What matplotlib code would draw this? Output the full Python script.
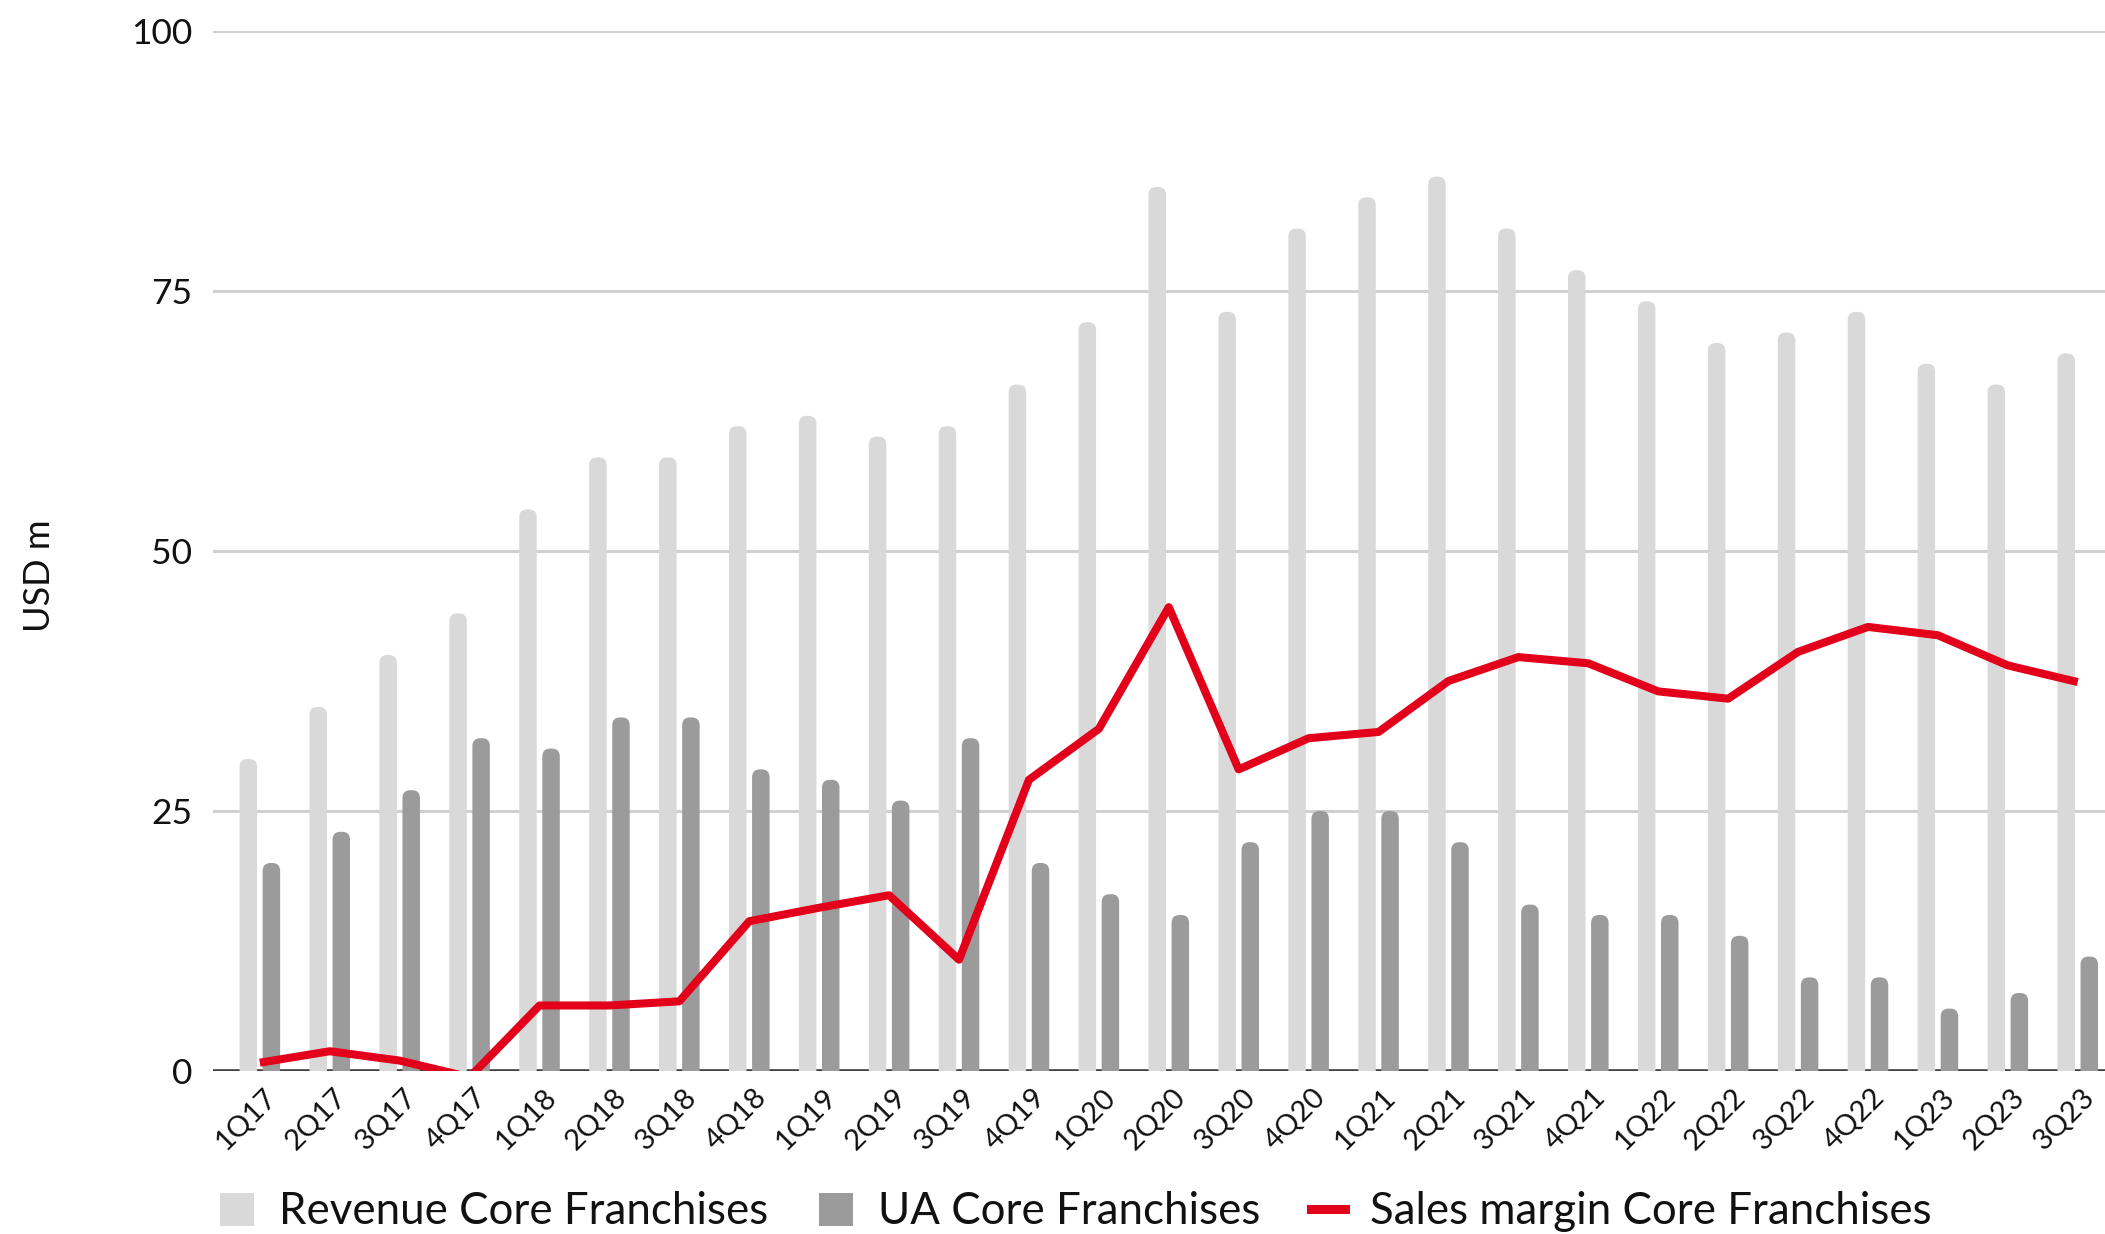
import matplotlib
matplotlib.use("Agg")
import matplotlib.pyplot as plt
import matplotlib.transforms as mtransforms
from matplotlib.patches import FancyBboxPatch, Patch
from matplotlib.lines import Line2D
import numpy as np

quarters = ["1Q17", "2Q17", "3Q17", "4Q17", "1Q18", "2Q18", "3Q18", "4Q18",
            "1Q19", "2Q19", "3Q19", "4Q19", "1Q20", "2Q20", "3Q20", "4Q20",
            "1Q21", "2Q21", "3Q21", "4Q21", "1Q22", "2Q22", "3Q22", "4Q22",
            "1Q23", "2Q23", "3Q23"]
revenue = [30, 35, 40, 44, 54, 59, 59, 62, 63, 61, 62, 66, 72, 85, 73, 81,
           84, 86, 81, 77, 74, 70, 71, 73, 68, 66, 69]
ua = [20, 23, 27, 32, 31, 34, 34, 29, 28, 26, 32, 20, 17, 15, 22, 25,
      25, 22, 16, 15, 15, 13, 9, 9, 6, 7.5, 11]
margin = [0.8, 1.9, 1.0, -0.6, 6.3, 6.3, 6.7, 14.4, 15.7, 16.9, 10.7, 28.0,
          32.9, 44.6, 29.0, 32.0, 32.6, 37.5, 39.8, 39.2, 36.5, 35.8, 40.3,
          42.7, 41.9, 39.0, 37.4]
y_ticks = [0, 25, 50, 75, 100]
legend_labels = ["Revenue Core Franchises", "UA Core Franchises",
                 "Sales margin Core Franchises"]

C_REV = "#d9d9d9"
C_UA = "#9b9b9b"
C_RED = "#e2001a"
FONT = "Lato"

W, H, DPI = 2105, 1234, 100
fig = plt.figure(figsize=(W / DPI, H / DPI), dpi=DPI)
ax_left, ax_right = 213 / W, 1.0
ax_bottom, ax_top = 1 - 1071 / H, 1 - 31 / H
ax = fig.add_axes([ax_left, ax_bottom, ax_right - ax_left, ax_top - ax_bottom])

x = np.arange(len(quarters))
xmin, xmax = -0.67, 26.39
ymin, ymax = 0, 100
ax.set_xlim(xmin, xmax)
ax.set_ylim(ymin, ymax)

# pixel scale for rounded bar tops
ax_w_px = (ax_right - ax_left) * W
ax_h_px = (ax_top - ax_bottom) * H
x_per_px = (xmax - xmin) / ax_w_px
y_per_px = (ymax - ymin) / ax_h_px
aspect = y_per_px / x_per_px

bw = 0.25
off = 0.165


def rounded_bars(xs, vals, color):
    for xi, v in zip(xs, vals):
        p = FancyBboxPatch((xi - bw / 2, -3), bw, v + 3,
                           boxstyle=f"round,pad=0,rounding_size={bw * 0.45}",
                           mutation_aspect=aspect, facecolor=color,
                           edgecolor="none", zorder=2)
        ax.add_patch(p)


rounded_bars(x - off, revenue, C_REV)
rounded_bars(x + off, ua, C_UA)

ax.plot(x, margin, color=C_RED, lw=5.8, zorder=4, solid_joinstyle="round",
        solid_capstyle="butt")

# grid and zero line
for t in y_ticks[1:]:
    ax.axhline(t, color="#d0d0d0", lw=2.2, zorder=0.5)
ax.axhline(0, color="#404040", lw=2.6, zorder=0.6)

for s in ax.spines.values():
    s.set_visible(False)

ax.set_yticks(y_ticks)
ax.set_yticklabels([str(t) for t in y_ticks], fontsize=25.5, family=FONT,
                   color="#111111")
ax.tick_params(axis="y", length=0, pad=15)

ax.set_xticks(x)
ax.set_xticklabels(quarters, rotation=45, ha="right", va="center",
                   rotation_mode="anchor", fontsize=21, family=FONT,
                   color="#111111")
ax.tick_params(axis="x", length=0, pad=16)
shift = mtransforms.ScaledTranslation(13 / DPI, 0, fig.dpi_scale_trans)
for lab in ax.get_xticklabels():
    lab.set_transform(lab.get_transform() + shift)

fig.text(40 / W, 1 - 576 / H, "USD m", rotation=90, ha="center",
         va="center", fontsize=26, family=FONT, color="#111111")

handles = [Patch(facecolor=C_REV, edgecolor="none"),
           Patch(facecolor=C_UA, edgecolor="none"),
           Line2D([0], [0], color=C_RED, lw=6.5)]
fig.legend(handles, legend_labels, loc="center left",
           bbox_to_anchor=(220 / W, 1 - 1212 / H), ncol=3, frameon=False,
           prop={"family": FONT, "size": 31.6}, handlelength=0.77,
           handleheight=0.77, handletextpad=0.57, columnspacing=1.16,
           borderpad=0, borderaxespad=0, labelcolor="#111111")

fig.savefig("out.png", dpi=DPI, facecolor="white")
